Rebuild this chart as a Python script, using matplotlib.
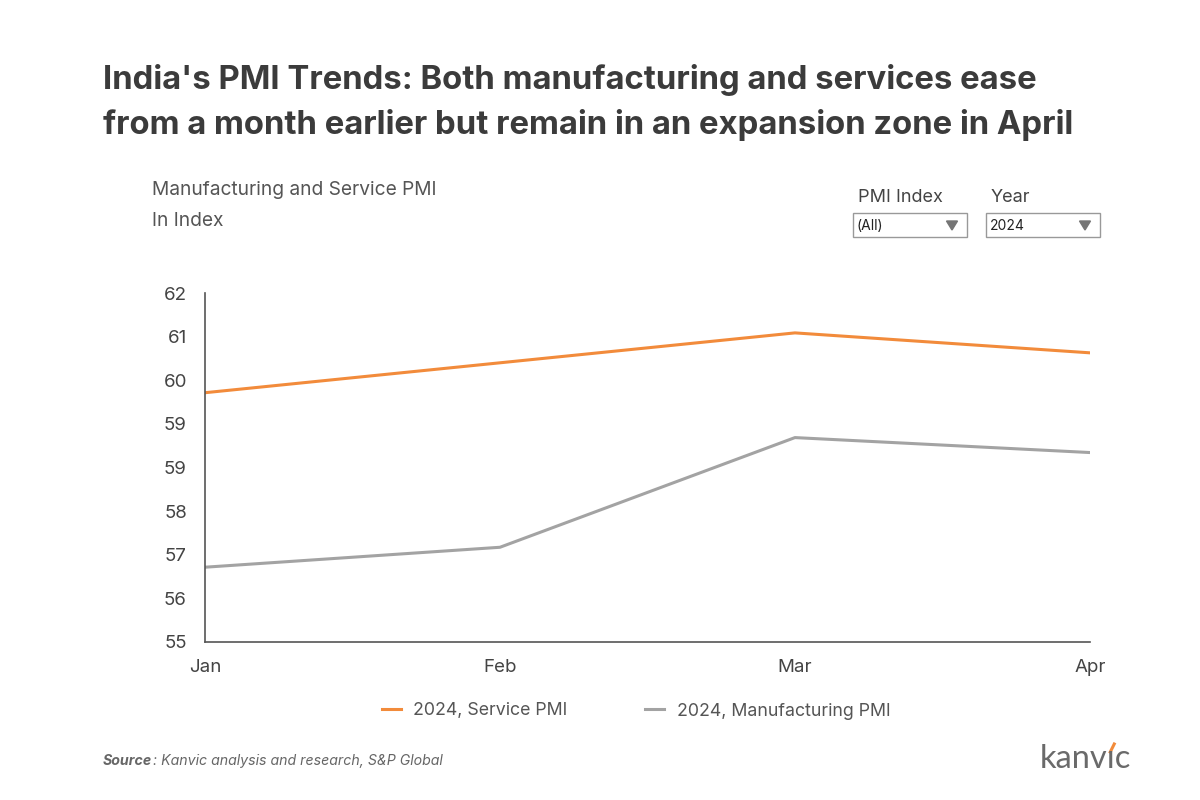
import matplotlib.pyplot as plt
from matplotlib.patches import Rectangle, Polygon

plt.rcParams['font.family'] = ['Inter', 'DejaVu Sans']

months = ['Jan', 'Feb', 'Mar', 'Apr']
service_pmi = [60.0, 60.6, 61.2, 60.8]
manufacturing_pmi = [56.5, 56.9, 59.1, 58.8]
y_ticks = [55, 55.875, 56.75, 57.625, 58.5, 59.375, 60.25, 61.125, 62]
y_labels = ['55', '56', '57', '58', '59', '59', '60', '61', '62']

orange = '#F28B3B'
grey = '#A3A3A3'
text_col = '#555555'

fig = plt.figure(figsize=(12, 8), dpi=100)
ax = fig.add_axes([0.1708, 0.1975, 0.7375, 0.43625])

x = range(len(months))
ax.plot(x, service_pmi, color=orange, lw=2.2, label='2024, Service PMI')
ax.plot(x, manufacturing_pmi, color=grey, lw=2.2, label='2024, Manufacturing PMI')

ax.set_xlim(0, len(months) - 1)
ax.set_ylim(55, 62)
ax.set_yticks(y_ticks)
ax.set_yticklabels(y_labels)
ax.set_xticks(list(x))
ax.set_xticklabels(months)
ax.tick_params(axis='both', length=0, labelsize=13.5, colors='#444444')
ax.tick_params(axis='y', pad=13)
ax.tick_params(axis='x', pad=12)
for s in ['top', 'right']:
    ax.spines[s].set_visible(False)
for s in ['left', 'bottom']:
    ax.spines[s].set_color('#555555')
    ax.spines[s].set_linewidth(1.2)

# title
fig.text(0.086, 1 - 102.5 / 800, "India's PMI Trends: Both manufacturing and services ease\n"
         "from a month earlier but remain in an expansion zone in April",
         fontsize=23.7, fontweight='bold', color='#3b3b3b', va='center', ha='left',
         linespacing=1.5)

fig.text(0.127, 1 - 190 / 800, 'Manufacturing and Service PMI', fontsize=13.8, color=text_col, va='center')
fig.text(0.127, 1 - 221 / 800, 'In Index', fontsize=13.8, color=text_col, va='center')

# filter boxes
for x0, lab, val in [(853, 'PMI Index', '(All)'), (986, 'Year', '2024')]:
    fig.text(x0 / 1200 + 0.004, 1 - 198 / 800, lab, fontsize=13, color='#444444', va='center')
    fig.patches.append(Rectangle((x0 / 1200, 1 - 237 / 800), 114 / 1200, 24 / 800,
                                 transform=fig.transFigure, fill=False,
                                 edgecolor='#999999', lw=1))
    fig.text(x0 / 1200 + 0.003, 1 - 226 / 800, val, fontsize=10, color='#222222', va='center')
    tx = (x0 + 99) / 1200
    fig.patches.append(Polygon([(tx - 5.5 / 1200, 1 - 221 / 800), (tx + 5.5 / 1200, 1 - 221 / 800),
                                (tx, 1 - 230 / 800)], closed=True,
                               transform=fig.transFigure, color='#757575'))

fig.legend(loc='center', bbox_to_anchor=(0.53, 1 - 711 / 800), ncol=2, frameon=False,
           fontsize=12.8, handlelength=1.05, columnspacing=4.4, handletextpad=0.7,
           labelcolor='#555555')

fig.text(0.086, 1 - 761 / 800, 'Source', fontsize=10.2, fontstyle='italic',
         fontweight='bold', color='#666666', va='center')
fig.text(0.1272, 1 - 761 / 800, ': Kanvic analysis and research, S&P Global', fontsize=10.2,
         fontstyle='italic', color='#666666', va='center')

# logo: word in grey, orange accent over the i
logo_y = 1 - 759 / 800
logo_font = dict(fontsize=23.5, va='center', fontfamily=['Lato', 'DejaVu Sans'])
fig.text(1040 / 1200, logo_y, 'kanvıc', color='#6a6a6a', **logo_font)
fig.canvas.draw()
tmp_a = fig.text(1040 / 1200, logo_y, 'kanv', color='none', **logo_font)
tmp_b = fig.text(1040 / 1200, logo_y, 'kanvı', color='none', **logo_font)
fig.canvas.draw()
xa = tmp_a.get_window_extent().x1
xb = tmp_b.get_window_extent().x1
tmp_a.remove()
tmp_b.remove()
cx = (xa + xb) / 2 / 1200
fig.lines.append(plt.Line2D([cx - 1.5 / 1200, cx + 2.5 / 1200], [1 - 752 / 800, 1 - 744 / 800],
                            transform=fig.transFigure, color=orange, lw=2.2))

fig.savefig('out.png', dpi=100, facecolor='white')
